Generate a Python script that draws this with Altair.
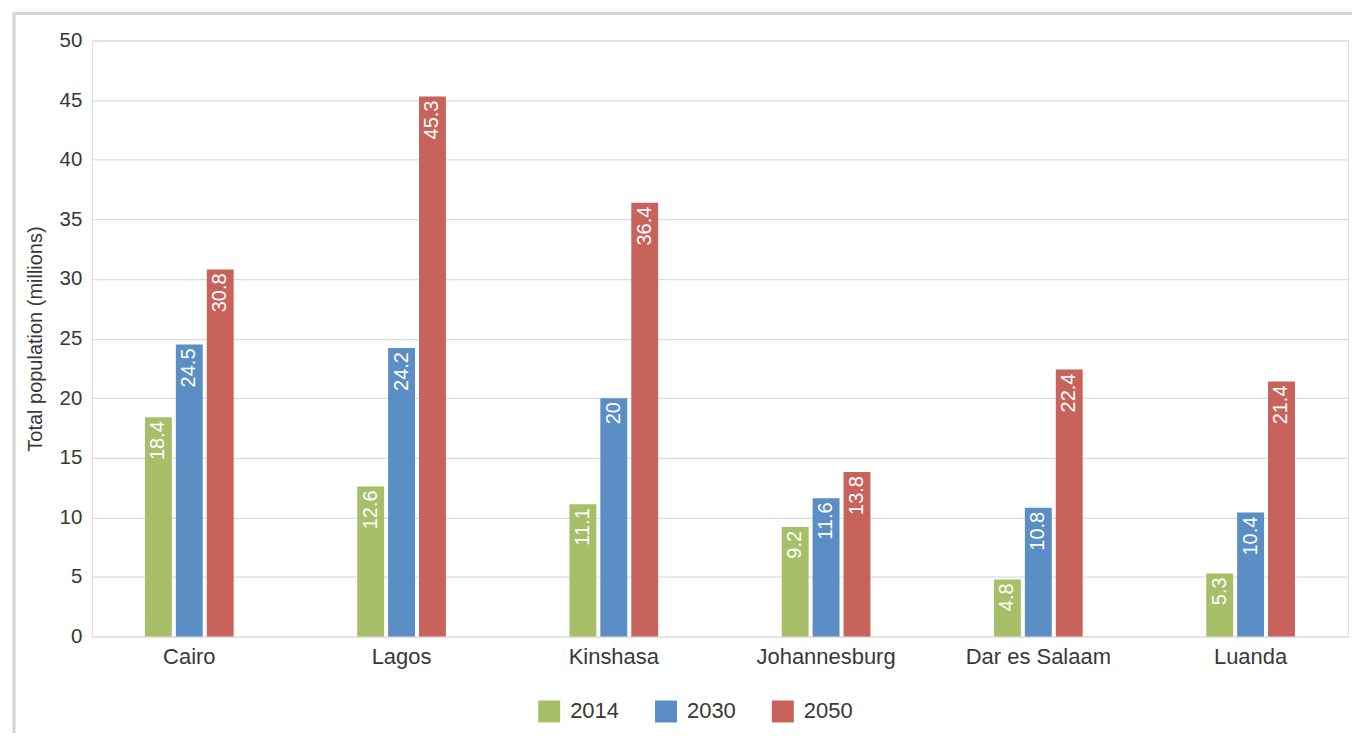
import altair as alt
import pandas as pd

cities = ["Cairo", "Lagos", "Kinshasa", "Johannesburg", "Dar es Salaam", "Luanda"]
years = ["2014", "2030", "2050"]
pop_2014 = [18.4, 12.6, 11.1, 9.2, 4.8, 5.3]
pop_2030 = [24.5, 24.2, 20, 11.6, 10.8, 10.4]
pop_2050 = [30.8, 45.3, 36.4, 13.8, 22.4, 21.4]
colors = ["#A8BF69", "#5A8EC4", "#C8635C"]

rows = []
for yr, vals in zip(years, [pop_2014, pop_2030, pop_2050]):
    for c, v in zip(cities, vals):
        rows.append({"city": c, "year": yr, "value": v, "label": f"{v:g}"})
df = pd.DataFrame(rows)

FONT = "Liberation Sans"
TXT = "#383838"

x = alt.X("city:N", sort=cities, title=None,
          scale=alt.Scale(paddingInner=0.582, paddingOuter=0.25),
          axis=alt.Axis(labelAngle=0, labelFontSize=22, labelColor=TXT,
                        labelFont=FONT, ticks=False, domain=False, labelPadding=10,
                        grid=False))
xo = alt.XOffset("year:N", sort=years, scale=alt.Scale(paddingInner=0.13, paddingOuter=0))
y = alt.Y("value:Q", title="Total population (millions)",
          scale=alt.Scale(domain=[0, 50]),
          axis=alt.Axis(values=list(range(0, 51, 5)), labelFontSize=20.5, labelColor=TXT,
                        labelFont=FONT, ticks=False, domain=False, labelPadding=10,
                        gridColor="#dcdcdc", gridWidth=1.3, titleFontSize=20,
                        titleFont=FONT, titleFontWeight="normal", titleColor=TXT,
                        titlePadding=14))

bars = alt.Chart(df).mark_bar().encode(
    x=x, xOffset=xo, y=y,
    color=alt.Color("year:N", sort=years, title=None,
                    scale=alt.Scale(domain=years, range=colors),
                    legend=alt.Legend(orient="none", legendX=447, legendY=661,
                                      direction="horizontal",
                                      symbolType="square", symbolSize=484,
                                      symbolStrokeWidth=0, labelFontSize=22,
                                      labelFont=FONT, labelColor=TXT,
                                      columnPadding=36, symbolOffset=0,
                                      labelOffset=10)),
)

labels = alt.Chart(df).mark_text(angle=270, align="right", baseline="middle", dx=-4,
                                 color="white", fontSize=20, font=FONT).encode(
    x=x, xOffset=xo, y=y, text="label:N")

frame_df = pd.DataFrame({"k": [0]})
frame_left = alt.Chart(frame_df).mark_rule(color="#d4d4d4", strokeWidth=3).encode(
    x=alt.value(-78), y=alt.value(-28), y2=alt.value(700))
frame_top = alt.Chart(frame_df).mark_rule(color="#d4d4d4", strokeWidth=3).encode(
    x=alt.value(-78), x2=alt.value(1262), y=alt.value(-27))

chart = alt.layer(bars, labels, frame_left, frame_top).properties(
    width=1258, height=597,
    autosize=alt.AutoSizeParams(type="none"),
    padding={"left": 84, "top": 32, "right": 4, "bottom": 96},
).configure_view(stroke=None).configure(background="white")

chart.save("out.html", embed_options={"renderer": "svg", "actions": False})
